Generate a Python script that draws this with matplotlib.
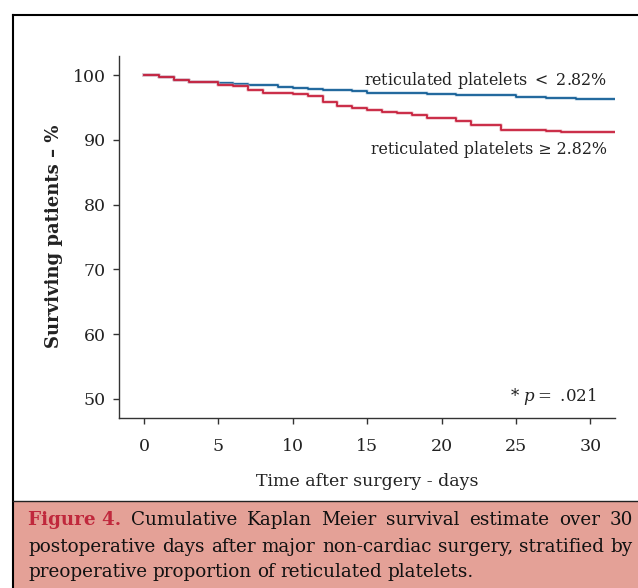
import matplotlib
matplotlib.use("Agg")
import matplotlib.pyplot as plt
from matplotlib.patches import Rectangle
from matplotlib.lines import Line2D

# Kaplan-Meier step data (days, % surviving)
days_low = [0, 1, 2, 3, 5, 6, 7, 9, 10, 11, 12, 14, 15, 19, 21, 25, 27, 29, 31.64]
surv_low = [100, 99.67, 99.3, 98.9, 98.8, 98.65, 98.43, 98.25, 98.05, 97.88,
            97.68, 97.52, 97.27, 97.1, 96.96, 96.65, 96.5, 96.3, 96.3]

days_high = [0, 1, 2, 3, 5, 6, 7, 8, 10, 11, 12, 13, 14, 15, 16, 17, 18, 19,
             21, 22, 24, 27, 28, 31.64]
surv_high = [100, 99.67, 99.3, 98.9, 98.56, 98.3, 97.73, 97.32, 97.06, 96.8,
             95.9, 95.23, 94.87, 94.56, 94.35, 94.1, 93.78, 93.43, 92.9, 92.37,
             91.55, 91.34, 91.24, 91.24]

x_ticks = [0, 5, 10, 15, 20, 25, 30]
y_ticks = [50, 60, 70, 80, 90, 100]

label_low = "reticulated platelets $<$ 2.82%"
label_high = "reticulated platelets \u2265 2.82%"

caption_lines = [
    [("Figure 4.", "bold", "#c0283c"), ("Cumulative", "normal", "#111111"),
     ("Kaplan", "normal", "#111111"), ("Meier", "normal", "#111111"),
     ("survival", "normal", "#111111"), ("estimate", "normal", "#111111"),
     ("over", "normal", "#111111"), ("30", "normal", "#111111")],
    [(w, "normal", "#111111") for w in
     "postoperative days after major non-cardiac surgery, stratified by".split()],
    [(w, "normal", "#111111") for w in
     "preoperative proportion of reticulated platelets.".split()],
]

plt.rcParams["font.family"] = "DejaVu Serif"
plt.rcParams["mathtext.fontset"] = "dejavuserif"

W, H = 638, 588
fig = plt.figure(figsize=(W / 100, H / 100), dpi=100)

# outer frame and caption box
fig.add_artist(Line2D([13.3 / W, 13.3 / W], [0, 1 - 14.5 / H], transform=fig.transFigure,
                      color="black", lw=1.5))
fig.add_artist(Line2D([13.3 / W, 1], [1 - 14.5 / H, 1 - 14.5 / H], transform=fig.transFigure,
                      color="black", lw=1.5))
fig.add_artist(Rectangle((14.3 / W, 0), 1 - 14.3 / W, (H - 501) / H, transform=fig.transFigure,
                         facecolor="#e4a197", edgecolor="none"))
fig.add_artist(Line2D([13.3 / W, 1], [(H - 501) / H, (H - 501) / H], transform=fig.transFigure,
                      color="#222222", lw=1.0))

ax = fig.add_axes([119.3 / W, 1 - 417.5 / H, 495.5 / W, 361.5 / H])
ax.step(days_low, surv_low, where="post", color="#a9c6dc", lw=2.6, alpha=0.6)
ax.step(days_low, surv_low, where="post", color="#135e96", lw=1.3)
ax.step(days_high, surv_high, where="post", color="#e7a3ad", lw=2.6, alpha=0.6)
ax.step(days_high, surv_high, where="post", color="#c8203c", lw=1.3)

ax.set_xlim(-1.66, 31.64)
ax.set_ylim(47.13, 102.97)
ax.set_xticks(x_ticks)
ax.set_yticks(y_ticks)
ax.spines["top"].set_visible(False)
ax.spines["right"].set_visible(False)
for s in ["left", "bottom"]:
    ax.spines[s].set_linewidth(1.0)
    ax.spines[s].set_color("#333333")
ax.tick_params(axis="both", length=4.5, width=1.0, color="#333333",
               labelsize=12.5, labelcolor="#222222")
ax.tick_params(axis="x", pad=10)
ax.tick_params(axis="y", pad=5)

ax.text(31.1, 99.2, label_low, ha="right", va="center", fontsize=11.4, color="#222222")
ax.text(31.1, 88.5, label_high, ha="right", va="center", fontsize=11.4, color="#222222")
ax.text(30.4, 50.3, "* $p =$ .021", ha="right", va="center", fontsize=12, color="#222222")

fig.text(54 / W, 1 - 236 / H, "Surviving patients \u2013 %", rotation=90, ha="center",
         va="center", fontsize=13, weight="bold", color="#222222")
fig.text(367 / W, 1 - 482 / H, "Time after surgery - days", ha="center", va="center",
         fontsize=12.5, color="#222222")

# justified caption
renderer = fig.canvas.get_renderer()
cap_fs = 13.2
baselines = [525, 551.5, 577]
x_left, x_right = 28, 633
for i, tokens in enumerate(caption_lines):
    texts = [fig.text(0, 1 - baselines[i] / H, t, fontsize=cap_fs, weight=w, color=c,
                      va="baseline", ha="left") for t, w, c in tokens]
    widths = [t.get_window_extent(renderer).width for t in texts]
    if i < len(caption_lines) - 1:
        gap = (x_right - x_left - sum(widths)) / (len(tokens) - 1)
    else:
        gap = 0.3 * cap_fs * 100 / 72
    x = x_left
    for t, wd in zip(texts, widths):
        t.set_x(x / W)
        x += wd + gap

fig.savefig("out.png", dpi=100)
